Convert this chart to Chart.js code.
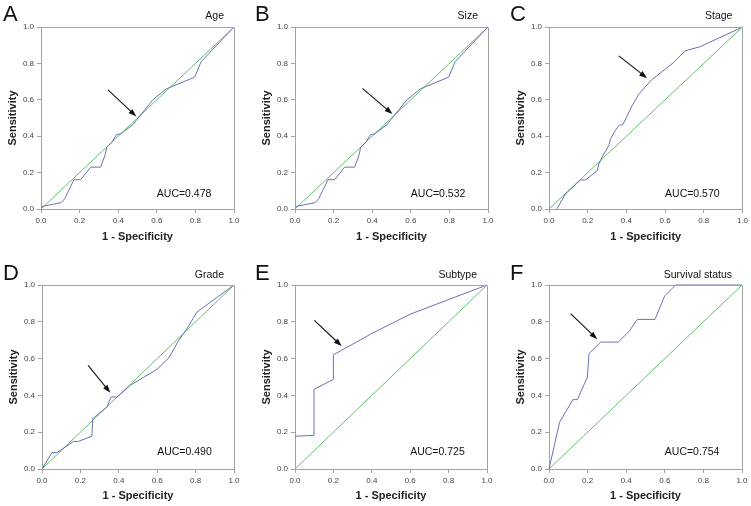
<!DOCTYPE html>
<html><head><meta charset="utf-8">
<script src="https://cdn.jsdelivr.net/npm/chart.js@4/dist/chart.umd.min.js"></script>
<style>
html,body{margin:0;padding:0;background:#fff;}
body{width:751px;height:506px;position:relative;overflow:hidden;}
canvas{position:absolute;}
</style></head><body>
<script>
// ---------- data ----------
const panelLetters = ['A','B','C','D','E','F'];
const panelTitles = ['Age','Size','Stage','Grade','Subtype','Survival status'];
const aucLabels = ['AUC=0.478','AUC=0.532','AUC=0.570','AUC=0.490','AUC=0.725','AUC=0.754'];
const tickLabels = ['0.0','0.2','0.4','0.6','0.8','1.0'];
const xAxisTitle = '1 - Specificity';
const yAxisTitle = 'Sensitivity';
const diagX = [0, 1];
const diagY = [0, 1];

const ageFpr = [0, 0.105, 0.123, 0.171, 0.206, 0.257, 0.309, 0.333, 0.34, 0.368, 0.39, 0.412, 0.477, 0.497, 0.58, 0.649, 0.796, 0.83, 1];
const ageTpr = [0.013, 0.035, 0.057, 0.161, 0.161, 0.23, 0.23, 0.30, 0.34, 0.367, 0.408, 0.413, 0.463, 0.492, 0.6, 0.66, 0.724, 0.81, 1];

const sizeFpr = [0, 0.105, 0.123, 0.171, 0.206, 0.257, 0.309, 0.333, 0.34, 0.368, 0.39, 0.412, 0.477, 0.497, 0.58, 0.649, 0.796, 0.83, 1];
const sizeTpr = [0.013, 0.035, 0.057, 0.161, 0.161, 0.23, 0.23, 0.30, 0.34, 0.367, 0.408, 0.413, 0.463, 0.492, 0.6, 0.66, 0.724, 0.81, 1];

const stageFpr = [0.04, 0.086, 0.163, 0.189, 0.249, 0.258, 0.284, 0.309, 0.318, 0.344, 0.364, 0.381, 0.43, 0.464, 0.529, 0.644, 0.704, 0.782, 1];
const stageTpr = [0, 0.084, 0.16, 0.16, 0.21, 0.248, 0.303, 0.348, 0.385, 0.434, 0.462, 0.462, 0.568, 0.631, 0.708, 0.805, 0.869, 0.892, 1];

const gradeFpr = [0, 0.052, 0.078, 0.165, 0.191, 0.26, 0.264, 0.30, 0.339, 0.359, 0.391, 0.46, 0.599, 0.66, 0.712, 0.755, 0.807, 1];
const gradeTpr = [0, 0.089, 0.089, 0.15, 0.15, 0.179, 0.274, 0.304, 0.337, 0.391, 0.391, 0.455, 0.542, 0.603, 0.699, 0.763, 0.853, 1];

const subtypeFpr = [0, 0.099, 0.099, 0.2, 0.2, 0.243, 0.399, 0.599, 1];
const subtypeTpr = [0.178, 0.183, 0.433, 0.487, 0.621, 0.645, 0.736, 0.841, 1];

const survivalFpr = [0, 0.055, 0.124, 0.147, 0.199, 0.207, 0.268, 0.359, 0.415, 0.458, 0.549, 0.599, 0.656, 1];
const survivalTpr = [0, 0.255, 0.377, 0.377, 0.5, 0.627, 0.69, 0.69, 0.748, 0.813, 0.813, 0.94, 1, 1];

// arrow annotations [tailX, tailY, headX, headY] in data units
const arrowA = [0.347, 0.654, 0.494, 0.508];
const arrowB = [0.349, 0.663, 0.505, 0.522];
const arrowC = [0.361, 0.841, 0.507, 0.719];
const arrowD = [0.240, 0.563, 0.356, 0.415];
const arrowE = [0.101, 0.808, 0.243, 0.668];
const arrowF = [0.112, 0.844, 0.250, 0.705];

// ---------- layout (positions only) ----------
// canvas rect + plot margins
const layout = [
  {cx:0,   cy:0,   cw:250, ch:250, yw:41, pt:27, pr:16, xh:41, tpad:6.7, auy:0.066, lx:3,  lb:21,   tb:18.5},
  {cx:250, cy:0,   cw:250, ch:250, yw:45, pt:27, pr:12, xh:41, tpad:6.7, auy:0.066, lx:5,  lb:21,   tb:18.5},
  {cx:500, cy:0,   cw:251, ch:250, yw:49, pt:27, pr:8,  xh:41, tpad:6.7, auy:0.066, lx:10, lb:21,   tb:18.5},
  {cx:0,   cy:250, cw:250, ch:256, yw:42, pt:35, pr:16, xh:37, tpad:3.7, auy:0.078, lx:3,  lb:29.5, tb:27.5},
  {cx:250, cy:250, cw:250, ch:256, yw:45, pt:35, pr:13, xh:37, tpad:3.7, auy:0.078, lx:5,  lb:29.5, tb:27.5},
  {cx:500, cy:250, cw:251, ch:256, yw:49, pt:35, pr:9,  xh:37, tpad:3.7, auy:0.078, lx:10, lb:29.5, tb:27.5}
];

const curves = [[ageFpr,ageTpr],[sizeFpr,sizeTpr],[stageFpr,stageTpr],[gradeFpr,gradeTpr],[subtypeFpr,subtypeTpr],[survivalFpr,survivalTpr]];
const arrows = [arrowA, arrowB, arrowC, arrowD, arrowE, arrowF];

const FONT = "'Liberation Sans', Arial, Helvetica, sans-serif";
Chart.defaults.font.family = FONT;
const BLUE = '#6c70b6';
const GREEN = '#62bd6b';
const FRAME = '#a3a3a3';

function pts(xs, ys){ return xs.map((x,i)=>({x:x, y:ys[i]})); }

const annotPlugin = {
  id:'annot',
  afterDraw(chart){
    const o = chart.options.plugins.annot;
    const ctx = chart.ctx, a = chart.chartArea;
    const xs = chart.scales.x, ys = chart.scales.y;
    ctx.save();
    // top & right frame
    ctx.strokeStyle = FRAME; ctx.lineWidth = 1;
    ctx.beginPath();
    ctx.moveTo(Math.round(a.left)+0.5, Math.round(a.top)+0.5);
    ctx.lineTo(Math.round(a.right)+0.5, Math.round(a.top)+0.5);
    ctx.lineTo(Math.round(a.right)+0.5, Math.round(a.bottom)+0.5);
    ctx.stroke();
    // arrow
    const ar = o.arrow;
    const x1 = xs.getPixelForValue(ar[0]), y1 = ys.getPixelForValue(ar[1]);
    const x2 = xs.getPixelForValue(ar[2]), y2 = ys.getPixelForValue(ar[3]);
    const ang = Math.atan2(y2-y1, x2-x1), hl = 8, hw = 2.8;
    const c = Math.cos(ang), s = Math.sin(ang);
    ctx.strokeStyle = '#111'; ctx.fillStyle = '#111'; ctx.lineWidth = 1.1;
    ctx.beginPath(); ctx.moveTo(x1,y1); ctx.lineTo(x2-hl*0.7*c, y2-hl*0.7*s); ctx.stroke();
    ctx.beginPath(); ctx.moveTo(x2,y2);
    ctx.lineTo(x2-hl*c+hw*s, y2-hl*s-hw*c);
    ctx.lineTo(x2-hl*c-hw*s, y2-hl*s+hw*c);
    ctx.closePath(); ctx.fill();
    // AUC
    ctx.fillStyle = '#111'; ctx.textBaseline = 'alphabetic';
    ctx.font = '10.5px ' + FONT; ctx.textAlign = 'left';
    ctx.fillText(o.auc, xs.getPixelForValue(0.6), ys.getPixelForValue(o.auy));
    // panel title
    ctx.textAlign = 'right';
    ctx.fillText(o.title, a.right - 10, o.tb);
    // letter
    ctx.font = '22px ' + FONT; ctx.textAlign = 'left';
    ctx.fillText(o.letter, o.lx, o.lb);
    ctx.restore();
  }
};

layout.forEach((L, i) => {
  const cv = document.createElement('canvas');
  cv.width = L.cw; cv.height = L.ch;
  cv.style.left = L.cx + 'px'; cv.style.top = L.cy + 'px';
  cv.style.width = L.cw + 'px'; cv.style.height = L.ch + 'px';
  document.body.appendChild(cv);
  const tickOpts = {
    stepSize: 0.2, autoSkip: false, maxRotation: 0, padding: 3,
    color: '#444', font: {size: 8, family: FONT},
    callback: (v, idx) => tickLabels[idx]
  };
  const gridOpts = {display: true, drawOnChartArea: false, drawTicks: true, tickLength: 4, color: FRAME, lineWidth: 1};
  const titleFont = {size: 11, weight: 'bold', family: FONT, lineHeight: 1.2};
  new Chart(cv, {
    type: 'line',
    data: {
      datasets: [
        {data: pts(curves[i][0], curves[i][1]), borderColor: BLUE, borderWidth: 1, pointRadius: 0, tension: 0, fill: false, clip: 4},
        {data: pts(diagX, diagY), borderColor: GREEN, borderWidth: 1, pointRadius: 0, tension: 0, fill: false, clip: 4}
      ]
    },
    options: {
      responsive: false, animation: false, devicePixelRatio: 1,
      layout: {padding: {top: L.pt, right: L.pr, left: 0, bottom: 0}},
      plugins: {
        legend: {display: false}, tooltip: {enabled: false},
        annot: {arrow: arrows[i], auc: aucLabels[i], title: panelTitles[i], letter: panelLetters[i], auy: L.auy, lx: L.lx, lb: L.lb, tb: L.tb}
      },
      scales: {
        x: {
          type: 'linear', min: 0, max: 1,
          afterFit(s){ s.height = L.xh; },
          ticks: tickOpts, grid: gridOpts,
          border: {display: true, color: FRAME, width: 1},
          title: {display: true, text: xAxisTitle, color: '#222', font: titleFont, padding: {top: 0, bottom: L.tpad}}
        },
        y: {
          type: 'linear', min: 0, max: 1,
          afterFit(s){ s.width = L.yw; },
          ticks: tickOpts, grid: gridOpts,
          border: {display: true, color: FRAME, width: 1},
          title: {display: true, text: yAxisTitle, color: '#222', font: titleFont, padding: {top: L.yw - 28.5 - 6.6, bottom: 0}}
        }
      }
    },
    plugins: [annotPlugin]
  });
});
</script>
</body></html>
